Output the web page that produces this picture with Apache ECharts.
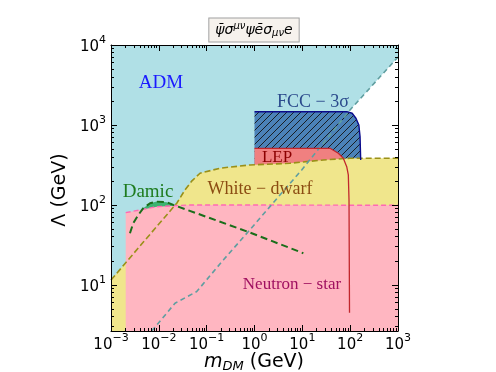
<!DOCTYPE html>
<html>
<head>
<meta charset="utf-8">
<script src="https://cdn.jsdelivr.net/npm/echarts@6/dist/echarts.min.js"></script>
<style>
  html, body { margin: 0; padding: 0; background: #fff; }
  #chart { width: 496px; height: 372px; }
</style>
</head>
<body>
<div id="chart"></div>
<script>
// diagonal (cadetblue dashed) - upper limit of allowed region
const diagX = [0.0071, 0.0218, 0.062, 0.223, 0.743, 9.7, 99.3, 1000];
const diagY = [2.65, 5.9, 8.25, 20.5, 46.4, 274, 1540, 7080];

// white dwarf (khaki) upper edge
const wdX = [0.001, 0.00485, 0.0237, 0.0352, 0.0493, 0.0726, 0.19, 0.805, 5.5, 27.5, 99, 1000];
const wdY = [11.5, 34.8, 105, 154, 200, 249, 288, 316, 332, 365, 384, 384];

// neutron star (pink) upper edge
const nsX = [0.00203, 0.00404, 0.009, 0.0449, 1000];
const nsY = [80, 86.6, 95, 100, 99];

// damic dashed curve
const damicX = [0.00249, 0.00292, 0.00373, 0.00473, 0.00654, 0.009, 0.0146, 0.0201, 0.74, 10.5];
const damicY = [44.3, 59, 75, 91, 105, 110, 108, 100, 46, 24.9];

// LEP boundary
const lepX = [1, 37.9, 56.5, 71.9, 84.7, 91.5, 94.6, 96.9];
const lepY = [511, 511, 443, 384, 301, 237, 115, 4.47];

// FCC 3 sigma boundary
const fccX = [1, 85, 110, 132, 152, 161, 166, 168];
const fccY = [1466, 1466, 1400, 1213, 1000, 714, 365, 274];

function pairs (xs, ys) {
    return xs.map((x, i) => [x, ys[i]])
}

/* 斜线填充 */
function hatch () {
    const s = 7
    const c = document.createElement('canvas')
    c.width = s; c.height = s
    const ctx = c.getContext('2d')
    ctx.fillStyle = '#4b82b8'
    ctx.fillRect(0, 0, s, s)
    ctx.strokeStyle = '#141414'
    ctx.lineWidth = 0.9
    ctx.beginPath()
    ctx.moveTo(-1, s + 1); ctx.lineTo(s + 1, -1)
    ctx.moveTo(-1, 1); ctx.lineTo(1, -1)
    ctx.moveTo(s - 1, s + 1); ctx.lineTo(s + 1, s - 1)
    ctx.stroke()
    return { image: c, repeat: 'repeat' }
}

function powLabel (v) {
    const l = Math.log10(v)
    const n = Math.round(l)
    if (Math.abs(l - n) > 1e-6) return ''
    return '{b|10}{s|' + (n < 0 ? '\u2212' + (-n) : n) + '}'
}

const labelRich = {
    b: { fontSize: 15, fontFamily: 'DejaVu Sans', color: '#000', lineHeight: 20, verticalAlign: 'bottom' },
    s: { fontSize: 11, fontFamily: 'DejaVu Sans', color: '#000', lineHeight: 12, verticalAlign: 'top' }
}

function logAxis (pos, min, max, show) {
    return {
        type: 'log', logBase: 10, position: pos, min: min, max: max, z: 50,
        axisLine: { show: true, lineStyle: { color: '#000', width: 1 } },
        axisTick: { show: true, inside: true, length: 6, lineStyle: { color: '#000' } },
        minorTick: { show: true, splitNumber: 9, length: 3, lineStyle: { color: '#000' } },
        splitLine: { show: false },
        minorSplitLine: { show: false },
        axisLabel: { show: show, formatter: powLabel, rich: labelRich, margin: pos === 'left' ? 5 : 2 }
    }
}

function area (xs, ys, color, z) {
    return {
        type: 'line', data: pairs(xs, ys), symbol: 'none', z: z, silent: true,
        lineStyle: { width: 0, opacity: 0 },
        areaStyle: { color: color, opacity: 1, origin: 'start' }
    }
}

function curve (xs, ys, color, width, dash, z) {
    return {
        type: 'line', data: pairs(xs, ys), symbol: 'none', z: z, silent: true,
        lineStyle: { color: color, width: width, type: dash }
    }
}

const serif = 'Liberation Serif'
function note (text, x, y, color, size) {
    return {
        type: 'text', x: x, y: y, z: 60,
        style: { text: text, fill: color, font: size + 'px "' + serif + '"', align: 'center', verticalAlign: 'middle' }
    }
}

const chart = echarts.init(document.getElementById('chart'), null, { renderer: 'canvas' })
chart.setOption({
    animation: false,
    backgroundColor: '#fff',
    grid: { left: 111, top: 45, width: 287, height: 286, show: true, backgroundColor: '#b0e0e6', borderWidth: 0 },
    xAxis: [logAxis('bottom', 1e-3, 1e3, true), logAxis('top', 1e-3, 1e3, false)],
    yAxis: [logAxis('left', 2.65, 1e4, true), logAxis('right', 2.65, 1e4, false)],
    series: [
        area(diagX, diagY, '#ffffff', 2),
        area(fccX, fccY, hatch(), 3),
        area(lepX, lepY, '#f08080', 4),
        area(wdX, wdY, '#f0e68c', 5),
        area(damicX.slice(3, 8), damicY.slice(3, 8), '#3cb371', 6),
        area(nsX, nsY, '#ffb6c1', 7),
        curve(wdX, wdY, '#9a9018', 1.6, [6, 3], 8),
        curve(nsX, nsY, '#ff69b4', 1.4, [5, 3], 8),
        curve(diagX, diagY, '#5f9ea0', 1.6, [5, 3.5], 9),
        curve(damicX, damicY, '#1a6e1a', 2, [7, 4], 9),
        curve(lepX, lepY, '#c1272d', 1.3, 'solid', 10),
        curve(fccX.slice(0, 7), fccY.slice(0, 7), '#0a0a8c', 1.4, 'solid', 10)
    ],
    graphic: [
        note('ADM', 161, 83, '#1a1aff', 19),
        note('FCC \u2212 3\u03c3', 313, 102, '#2b4a8c', 18),
        note('LEP', 277, 158, '#8b0000', 17),
        note('White \u2212 dwarf', 260, 189, '#8b4c12', 18),
        note('Damic', 148, 192, '#1e7b1e', 19),
        note('Neutron \u2212 star', 292, 285, '#a01060', 17),
        {
            type: 'text', x: 254, y: 30, z: 60,
            style: {
                text: '{a|\u03c8\u0304\u03c3}{p|\u03bc\u03bd}{a|\u03c8\u0113\u03c3}{d|\u03bc\u03bd}{a|e}',
                align: 'center', verticalAlign: 'middle',
                backgroundColor: '#f6f2ed', borderColor: '#a0a0a0', borderWidth: 1, padding: [3, 6, 3, 6],
                rich: {
                    a: { font: 'italic 14px "DejaVu Sans"', fill: '#000', lineHeight: 17 },
                    p: { font: 'italic 10px "DejaVu Sans"', fill: '#000', lineHeight: 10, verticalAlign: 'top' },
                    d: { font: 'italic 10px "DejaVu Sans"', fill: '#000', lineHeight: 10, verticalAlign: 'bottom' }
                }
            }
        },
        {
            type: 'text', x: 60, y: 190, rotation: Math.PI / 2, z: 60,
            style: { text: '\u039b (GeV)', font: '19px "DejaVu Sans"', fill: '#000', align: 'center', verticalAlign: 'middle' }
        },
        {
            type: 'text', x: 254, y: 362, z: 60,
            style: {
                text: '{m|m}{d|DM}{g| (GeV)}', align: 'center', verticalAlign: 'middle',
                rich: {
                    m: { font: 'italic 19px "DejaVu Sans"', fill: '#000', lineHeight: 22 },
                    d: { font: 'italic 13px "DejaVu Sans"', fill: '#000', lineHeight: 14, verticalAlign: 'bottom' },
                    g: { font: '19px "DejaVu Sans"', fill: '#000', lineHeight: 22 }
                }
            }
        }
    ]
})
</script>
</body>
</html>
